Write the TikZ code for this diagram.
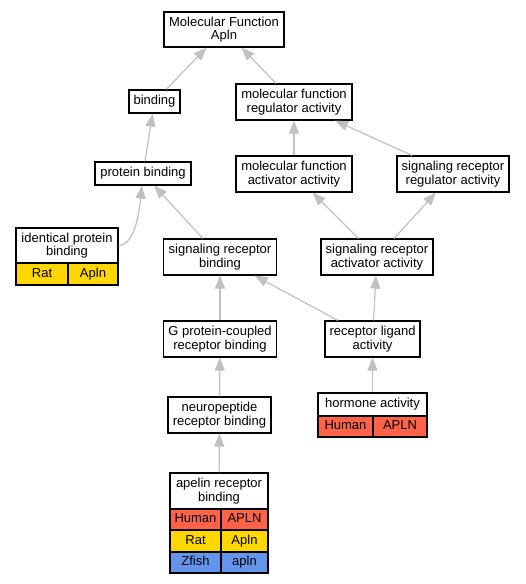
\documentclass[tikz,border=0pt]{standalone}
\usepackage{fontspec}
\setmainfont{Liberation Sans}
\usetikzlibrary{arrows.meta}
\definecolor{edgegray}{HTML}{C0C0C0}
\definecolor{humanc}{HTML}{FF6347}
\definecolor{ratc}{HTML}{FFD700}
\definecolor{fishc}{HTML}{6495ED}
\begin{document}
\begin{tikzpicture}[x=0.75pt,y=-0.75pt,
  box/.style={draw=black, fill=white, line width=0.9pt, inner sep=0pt, align=center, font=\fontsize{9.75}{10}\selectfont},
  wh/.style 2 args={minimum width=#1*0.75pt, minimum height=#2*0.75pt},
  cell/.style={text height=7.2pt, text depth=2pt},
  hum/.style={cell, fill=humanc},
  rat/.style={cell, fill=ratc},
  fish/.style={cell, fill=fishc},
  edge/.style={draw=edgegray, line width=0.9pt, -{Triangle[length=9.75pt,width=7.5pt]}}]
\useasboundingbox (0,0) rectangle (525,584);
\node[box,wh={120}{35}] (mf) at (224,29.5) {Molecular Function\\Apln};
\node[box,cell,wh={51}{23}] (bind) at (154.5,101.5) {binding};
\node[box,wh={116}{36}] (mfr) at (294,102) {molecular function\\regulator activity};
\node[box,cell,wh={96}{23}] (pb) at (143,173.5) {protein binding};
\node[box,wh={116}{36}] (mfa) at (294,174) {molecular function\\activator activity};
\node[box,wh={112}{36}] (srr) at (453,174) {signaling receptor\\regulator activity};
\node[box,wh={102}{35}] (ipb) at (67,245.5) {identical protein\\binding};
\node[box,rat,wh={52}{22}] (ipbrat) at (42,274) {Rat};
\node[box,rat,wh={50}{22}] (ipbgene) at (93,274) {Apln};
\node[box,wh={113}{36}] (srb) at (220,257) {signaling receptor\\binding};
\node[box,wh={112}{36}] (sraa) at (377,257) {signaling receptor\\activator activity};
\node[box,wh={113}{36}] (gpc) at (220,339) {G protein-coupled\\receptor binding};
\node[box,wh={95}{36}] (rla) at (372.5,339) {receptor ligand\\activity};
\node[box,wh={103}{36}] (npb) at (219.5,415) {neuropeptide\\receptor binding};
\node[box,cell,wh={109}{23}] (ha) at (372.5,404.5) {hormone activity};
\node[box,hum,wh={55}{21}] (hahum) at (345.5,426.5) {Human};
\node[box,hum,wh={54}{21}] (hagene) at (400,426.5) {APLN};
\node[box,wh={98}{36}] (arb) at (219,491) {apelin receptor\\binding};
\node[box,hum,wh={51}{21}] (arbhum) at (195.5,519.5) {Human};
\node[box,hum,wh={47}{21}] (arbhumg) at (244.5,519.5) {APLN};
\node[box,rat,wh={51}{22}] (arbrat) at (195.5,541) {Rat};
\node[box,rat,wh={47}{22}] (arbratg) at (244.5,541) {Apln};
\node[box,fish,wh={51}{21}] (arbfish) at (195.5,562.5) {Zfish};
\node[box,fish,wh={47}{21}] (arbfishg) at (244.5,562.5) {apln};
\draw[edge] (bind) -- (mf);
\draw[edge] (mfr) -- (mf);
\draw[edge] (pb) -- (bind);
\draw[edge] (mfa) -- (mfr);
\draw[edge] (srr) -- (mfr);
\draw[edge] (ipb.east) .. controls (134,245) and (139,215) .. (pb);
\draw[edge] (srb) -- (pb);
\draw[edge] (sraa) -- (mfa);
\draw[edge] (sraa) -- (srr);
\draw[edge] (gpc) -- (srb);
\draw[edge] (rla) -- (srb);
\draw[edge] (rla) -- (sraa);
\draw[edge] (ha) -- (rla);
\draw[edge] (npb) -- (gpc);
\draw[edge] (arb) -- (npb);
\end{tikzpicture}
\end{document}
